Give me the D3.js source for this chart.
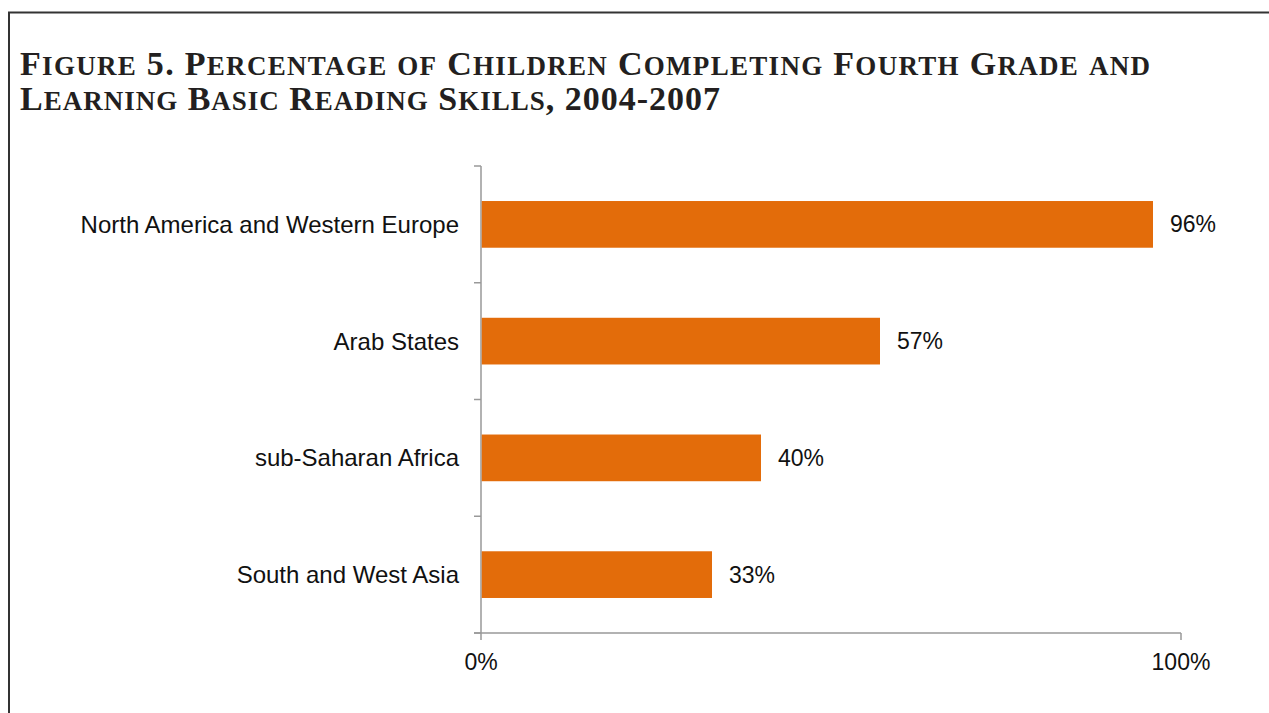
<!DOCTYPE html>
<html>
<head>
<meta charset="utf-8">
<script src="https://d3js.org/d3.v7.min.js"></script>
<style>
  body { margin: 0; background: #fff; }
  svg { display: block; }
</style>
</head>
<body>
<svg id="chart" width="1269" height="713"></svg>
<script>
// data
const regions = ["North America and Western Europe", "Arab States", "sub-Saharan Africa", "South and West Asia"];
const values = [96, 57, 40, 33];
const xTicks = [0, 100];
const titleLines = ["Figure 5. Percentage of Children Completing Fourth Grade and",
                    "Learning Basic Reading Skills, 2004-2007"];

const svg = d3.select("#chart");
const W = 1269, H = 713;

// frame (top and left edges visible)
svg.append("path")
  .attr("d", "M9," + H + " V12.5 H" + W)
  .attr("fill", "none").attr("stroke", "#333").attr("stroke-width", 2);

// title with hand made small caps: capitals big, lower case as smaller capitals
const titleY = [75, 110], titleW = [1130, 700];
titleLines.forEach((line, li) => {
  const t = svg.append("text")
    .attr("x", 20).attr("y", titleY[li])
    .attr("fill", "#231f20")
    .style("font-family", "'Liberation Serif', 'DejaVu Serif', serif")
    .style("font-weight", "bold");
  // group characters into runs of same size
  const runs = [];
  for (const ch of line) {
    const small = ch !== ch.toUpperCase();
    if (runs.length && runs[runs.length - 1].small === small) runs[runs.length - 1].s += ch;
    else runs.push({small: small, s: ch});
  }
  t.selectAll("tspan").data(runs).join("tspan")
    .style("font-size", d => d.small ? "27px" : "34px")
    .text(d => d.s.toUpperCase());
  t.attr("textLength", titleW[li]).attr("lengthAdjust", "spacing");
});

const x = d3.scaleLinear().domain([0, 100]).range([481, 1181]);
const y = d3.scaleBand().domain(regions).range([166, 633]).paddingInner(0.6).paddingOuter(0.3);

const axisColor = "#999";

// vertical category axis with tick marks between bands
const g = svg.append("g");
g.append("line")
  .attr("x1", x(0)).attr("x2", x(0)).attr("y1", 166).attr("y2", 633)
  .attr("stroke", axisColor).attr("stroke-width", 1.5);
const step = (633 - 166) / regions.length;
g.selectAll(".ytick").data(d3.range(regions.length + 1)).join("line")
  .attr("x1", x(0) - 7).attr("x2", x(0))
  .attr("y1", d => 166 + d * step).attr("y2", d => 166 + d * step)
  .attr("stroke", axisColor).attr("stroke-width", 1.5);

// horizontal value axis
g.append("line")
  .attr("x1", x(0) - 7).attr("x2", x(100)).attr("y1", 633).attr("y2", 633)
  .attr("stroke", axisColor).attr("stroke-width", 1.5);
g.selectAll(".xtick").data(xTicks).join("line")
  .attr("x1", d => x(d)).attr("x2", d => x(d)).attr("y1", 633).attr("y2", 640)
  .attr("stroke", axisColor).attr("stroke-width", 1.5);
g.selectAll(".xlab").data(xTicks).join("text")
  .attr("x", d => x(d)).attr("y", 670)
  .attr("text-anchor", "middle")
  .style("font-family", "'Liberation Sans', Arial, sans-serif")
  .style("font-size", "23px")
  .attr("fill", "#111")
  .text(d => d + "%");

// bars
svg.selectAll(".bar").data(values).join("rect")
  .attr("x", x(0) + 0.75)
  .attr("y", (d, i) => y(regions[i]))
  .attr("width", d => x(d) - x(0) - 0.75)
  .attr("height", y.bandwidth())
  .attr("fill", "#e36c0a");

// category labels
svg.selectAll(".cat").data(regions).join("text")
  .attr("x", 459)
  .attr("y", d => y(d) + y.bandwidth() / 2)
  .attr("dy", "0.35em")
  .attr("text-anchor", "end")
  .style("font-family", "'Liberation Sans', Arial, sans-serif")
  .style("font-size", "24px")
  .attr("fill", "#111")
  .text(d => d);

// value labels
svg.selectAll(".val").data(values).join("text")
  .attr("x", d => x(d) + 17)
  .attr("y", (d, i) => y(regions[i]) + y.bandwidth() / 2)
  .attr("dy", "0.35em")
  .style("font-family", "'Liberation Sans', Arial, sans-serif")
  .style("font-size", "23px")
  .attr("fill", "#111")
  .text(d => d + "%");
</script>
</body>
</html>
